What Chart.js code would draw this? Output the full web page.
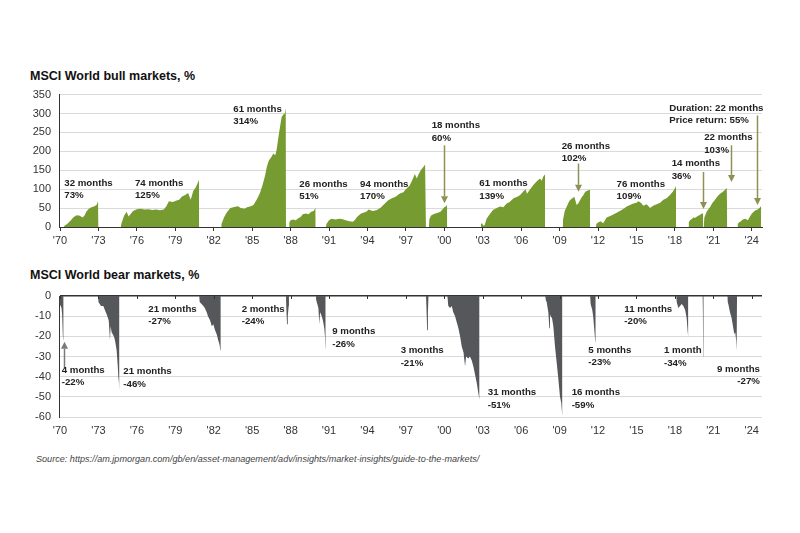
<!DOCTYPE html>
<html><head><meta charset="utf-8">
<script src="https://cdn.jsdelivr.net/npm/chart.js@4.4.1/dist/chart.umd.min.js"></script>
<style>
html,body{margin:0;padding:0;background:#fff;}
#wrap{position:relative;width:800px;height:533px;overflow:hidden;font-family:'Liberation Sans',Arial,sans-serif;background:#fff;}
.title{position:absolute;left:30px;font-weight:bold;font-size:12.5px;color:#111;line-height:14px;white-space:nowrap;}
#src{position:absolute;left:36px;top:453px;font-style:italic;font-size:9.1px;color:#444;white-space:nowrap;line-height:12px;}
canvas{position:absolute;left:0;}
</style></head>
<body><div id="wrap">
<div class="title" style="top:69px">MSCI World bull markets, %</div>
<canvas id="bull" width="800" height="170" style="top:80px"></canvas>
<div class="title" style="top:268px">MSCI World bear markets, %</div>
<canvas id="bear" width="800" height="160" style="top:280px"></canvas>
<div id="src">Source: https://am.jpmorgan.com/gb/en/asset-management/adv/insights/market-insights/guide-to-the-markets/</div>
</div>
<script>
// ---- tick labels ----
const tickYears = [1970,1973,1976,1979,1982,1985,1988,1991,1994,1997,2000,2003,2006,2009,2012,2015,2018,2021,2024];
const tickLabels = ["'70","'73","'76","'79","'82","'85","'88","'91","'94","'97","'00","'03","'06","'09","'12","'15","'18","'21","'24"];

// ---- bull markets: [year, cumulative price return %] ----
const bull1970 = [[1970.30,0],[1970.35,3],[1970.55,8],[1970.8,16],[1971.05,26],[1971.3,31],[1971.55,30],[1971.75,25],[1971.9,30],[1972.05,40],[1972.25,48],[1972.45,52],[1972.65,54],[1972.85,58],[1972.97,68],[1973.0,73],[1973.01,0]];
const bull1974 = [[1974.74,0],[1974.8,10],[1975.0,30],[1975.2,40],[1975.35,28],[1975.5,34],[1975.7,42],[1976.0,47],[1976.3,48],[1976.6,46],[1976.9,47],[1977.2,45],[1977.5,46],[1977.8,44],[1978.1,46],[1978.3,55],[1978.5,68],[1978.8,66],[1979.1,70],[1979.3,72],[1979.5,80],[1979.8,85],[1980.0,90],[1980.2,72],[1980.4,95],[1980.6,105],[1980.8,120],[1980.85,125],[1980.86,0]];
const bull1982 = [[1982.57,0],[1982.6,8],[1982.8,25],[1983.0,38],[1983.3,50],[1983.6,53],[1983.9,55],[1984.1,50],[1984.4,48],[1984.6,52],[1984.9,55],[1985.1,58],[1985.35,72],[1985.6,89],[1985.8,110],[1986.0,135],[1986.15,160],[1986.3,176],[1986.5,185],[1986.65,194],[1986.8,190],[1986.9,202],[1987.05,238],[1987.2,270],[1987.3,291],[1987.45,298],[1987.55,300],[1987.62,314],[1987.64,0]];
const bull1987 = [[1987.88,0],[1987.9,12],[1988.0,18],[1988.2,20],[1988.4,18],[1988.6,23],[1988.8,27],[1988.95,34],[1989.2,36],[1989.4,34],[1989.6,40],[1989.8,42],[1989.95,51],[1989.96,0]];
const bull1990 = [[1990.75,0],[1990.8,8],[1991.0,18],[1991.2,22],[1991.5,20],[1991.8,22],[1992.0,21],[1992.3,18],[1992.6,15],[1992.85,14],[1993.0,18],[1993.2,27],[1993.5,36],[1993.9,40],[1994.1,46],[1994.4,42],[1994.7,44],[1995.0,50],[1995.3,60],[1995.6,70],[1995.9,76],[1996.2,80],[1996.5,88],[1996.8,92],[1997.0,100],[1997.3,110],[1997.5,124],[1997.7,140],[1997.85,128],[1998.0,140],[1998.2,152],[1998.35,158],[1998.5,165],[1998.56,170],[1998.57,0]];
const bull1998 = [[1998.8,0],[1998.83,20],[1998.95,30],[1999.1,33],[1999.3,36],[1999.5,38],[1999.7,40],[1999.85,46],[2000.0,52],[2000.15,55],[2000.22,60],[2000.23,0]];
const bull2003 = [[2002.84,0],[2002.86,8],[2002.95,10],[2003.05,3],[2003.15,5],[2003.3,22],[2003.5,32],[2003.8,45],[2004.1,50],[2004.35,54],[2004.6,52],[2004.87,62],[2005.1,66],[2005.4,76],[2005.7,80],[2005.9,84],[2006.2,95],[2006.35,100],[2006.45,88],[2006.7,100],[2006.95,111],[2007.2,120],[2007.47,128],[2007.6,122],[2007.75,135],[2007.86,139],[2007.87,0]];
const bull2009 = [[2009.24,0],[2009.27,20],[2009.4,42],[2009.56,54],[2009.7,65],[2009.8,71],[2010.0,76],[2010.15,80],[2010.33,58],[2010.45,62],[2010.59,71],[2010.75,80],[2010.85,84],[2011.0,93],[2011.15,96],[2011.3,98],[2011.37,102],[2011.38,0]];
const bull2011 = [[2011.84,0],[2011.87,8],[2012.0,12],[2012.2,15],[2012.4,10],[2012.67,25],[2013.0,30],[2013.45,38],[2013.7,42],[2014.0,48],[2014.24,54],[2014.5,58],[2014.75,62],[2015.0,64],[2015.15,68],[2015.35,64],[2015.53,56],[2015.8,60],[2016.06,50],[2016.3,56],[2016.58,60],[2016.85,64],[2017.1,72],[2017.35,76],[2017.6,84],[2017.85,94],[2018.05,105],[2018.09,109],[2018.1,0]];
const bull2019 = [[2019.05,0],[2019.08,12],[2019.18,18],[2019.35,22],[2019.45,26],[2019.57,24],[2019.7,27],[2019.83,30],[2020.0,33],[2020.1,36],[2020.2,36],[2020.22,0]];
const bull2020 = [[2020.25,0],[2020.3,25],[2020.48,40],[2020.6,46],[2020.74,52],[2020.9,62],[2021.13,72],[2021.3,80],[2021.52,88],[2021.7,92],[2021.9,98],[2022.05,103],[2022.09,0]];
const bull2022 = [[2022.87,0],[2022.9,8],[2023.0,12],[2023.15,15],[2023.3,20],[2023.5,22],[2023.7,18],[2023.85,27],[2024.0,35],[2024.15,40],[2024.3,44],[2024.45,46],[2024.6,50],[2024.72,55],[2024.73,0]];

// ---- bear markets: [year, drawdown %] ----
const bear1970 = [[1969.95,0],[1969.97,-4],[1970.05,-5],[1970.12,-6],[1970.17,-10],[1970.22,-20],[1970.26,-22],[1970.28,0]];
const bear1973 = [[1972.97,0],[1973.0,-3],[1973.2,-5],[1973.38,-5],[1973.5,-7],[1973.64,-9],[1973.8,-12],[1973.9,-22],[1973.95,-15],[1974.03,-18],[1974.2,-20],[1974.29,-22],[1974.42,-27],[1974.5,-34],[1974.55,-40],[1974.6,-43],[1974.63,-46],[1974.64,0]];
const bear1980 = [[1980.86,0],[1980.9,-3],[1981.05,-4],[1981.19,-5],[1981.3,-6],[1981.45,-8],[1981.55,-10],[1981.71,-12],[1981.85,-15],[1981.97,-14],[1982.1,-17],[1982.23,-19],[1982.35,-22],[1982.45,-24],[1982.52,-27],[1982.55,0]];
const bear1987 = [[1987.64,0],[1987.66,-5],[1987.72,-14],[1987.78,-10],[1987.85,-5],[1987.87,0]];
const bear1990 = [[1989.97,0],[1990.0,-2],[1990.04,-3],[1990.17,-6],[1990.24,-14],[1990.3,-8],[1990.37,-9],[1990.48,-11],[1990.55,-13],[1990.63,-16],[1990.68,-20],[1990.72,-26],[1990.74,0]];
const bear1998 = [[1998.57,0],[1998.6,-5],[1998.66,-17],[1998.72,-8],[1998.78,0]];
const bear2000 = [[2000.23,0],[2000.28,-3],[2000.31,-5],[2000.45,-6],[2000.58,-5],[2000.7,-8],[2000.84,-10],[2000.97,-13],[2001.1,-16],[2001.23,-20],[2001.36,-25],[2001.5,-28],[2001.62,-35],[2001.7,-30],[2001.88,-31],[2002.0,-30],[2002.14,-32],[2002.27,-35],[2002.4,-39],[2002.53,-43],[2002.65,-48],[2002.73,-51],[2002.75,0]];
const bear2007 = [[2007.87,0],[2007.92,-2],[2007.99,-3],[2008.12,-8],[2008.2,-16],[2008.25,-9],[2008.3,-10],[2008.41,-11],[2008.51,-15],[2008.64,-25],[2008.77,-33],[2008.9,-41],[2009.03,-50],[2009.13,-53],[2009.2,-59],[2009.22,0]];
const bear2011 = [[2011.38,0],[2011.42,-4],[2011.55,-7],[2011.62,-10],[2011.7,-16],[2011.76,-21],[2011.8,-23],[2011.82,0]];
const bear2018 = [[2018.1,0],[2018.14,-3],[2018.27,-6],[2018.4,-5],[2018.53,-4],[2018.66,-5],[2018.8,-7],[2018.92,-11],[2019.0,-18],[2019.04,-20],[2019.05,0]];
const bear2020 = [[2020.15,0],[2020.18,-8],[2020.22,-30],[2020.25,0]];
const bear2022 = [[2022.09,0],[2022.12,-3],[2022.17,-4],[2022.3,-8],[2022.43,-11],[2022.56,-16],[2022.64,-19],[2022.71,-18],[2022.78,-22],[2022.82,-27],[2022.85,0]];

const bullSeries = [bull1970,bull1974,bull1982,bull1987,bull1990,bull1998,bull2003,bull2009,bull2011,bull2019,bull2020,bull2022];
const bearSeries = [bear1970,bear1973,bear1980,bear1987,bear1990,bear1998,bear2000,bear2007,bear2011,bear2018,bear2020,bear2022];

// ---- annotations (anchored in data units) ----
const bullNotes = [
  {x:1970.33,y:115.8,lines:['32 months','73%']},
  {x:1975.85,y:115.8,lines:['74 months','125%']},
  {x:1983.53,y:312.4,lines:['61 months','314%']},
  {x:1988.68,y:113.2,lines:['26 months','51%']},
  {x:1993.42,y:113.2,lines:['94 months','170%']},
  {x:1999.01,y:268.4,lines:['18 months','60%']},
  {x:2002.73,y:115,lines:['61 months','139%']},
  {x:2009.16,y:213.2,lines:['26 months','102%']},
  {x:2013.45,y:113.2,lines:['76 months','109%']},
  {x:2017.75,y:167.6,lines:['14 months','36%']},
  {x:2020.29,y:236.8,lines:['22 months','103%']},
  {x:2017.56,y:314,lines:['Duration: 22 months','Price return: 55%']}
];
const bullArrows = [
  {x:2000.0,from:215.8,to:63},
  {x:2010.41,from:167.6,to:92.9},
  {x:2020.22,from:145.5,to:47.4},
  {x:2022.38,from:215.8,to:119.2},
  {x:2024.38,from:294.7,to:57.9}
];
const bearNotes = [
  {x:1970.13,y:-36.7,lines:['4 months','-22%']},
  {x:1974.94,y:-37.5,lines:['21 months','-46%']},
  {x:1976.89,y:-6.6,lines:['21 months','-27%']},
  {x:1984.18,y:-6.6,lines:['2 months','-24%']},
  {x:1991.25,y:-17.7,lines:['9 months','-26%']},
  {x:1996.59,y:-27.1,lines:['3 months','-21%']},
  {x:2003.39,y:-47.9,lines:['31 months','-51%']},
  {x:2009.94,y:-47.9,lines:['16 months','-59%']},
  {x:2011.24,y:-26.8,lines:['5 months','-23%']},
  {x:2014.05,y:-6.6,lines:['11 months','-20%']},
  {x:2017.15,y:-27.1,lines:['1 month','-34%']},
  {x:2024.64,y:-36.3,lines:['9 months','-27%'],align:'right'}
];
const bearArrows = [
  {x:1970.31,from:-35.9,to:-22.7}
];

const FONT = "'Liberation Sans', Arial, sans-serif";
const GREEN = '#769b30';
const GREY = '#55575a';
const XMIN = 1969.92, XMAX = 2024.8;

const notesPlugin = {
  id:'notes',
  afterDatasetsDraw(chart, args, opts){
    const {ctx} = chart;
    const xs = chart.scales.x, ys = chart.scales.y;
    ctx.save();
    (opts.arrows||[]).forEach(a=>{
      const x = Math.round(xs.getPixelForValue(a.x))+0.5;
      const y1 = ys.getPixelForValue(a.from), y2 = ys.getPixelForValue(a.to);
      const dir = y2>y1?1:-1;
      const head = 7;
      ctx.strokeStyle = opts.arrowColor; ctx.fillStyle = opts.arrowColor; ctx.lineWidth = 1.5;
      ctx.beginPath(); ctx.moveTo(x,y1); ctx.lineTo(x,y2-dir*head); ctx.stroke();
      ctx.beginPath(); ctx.moveTo(x-3.5,y2-dir*head); ctx.lineTo(x+3.5,y2-dir*head); ctx.lineTo(x,y2); ctx.closePath(); ctx.fill();
    });
    ctx.font = "bold 9.7px " + FONT;
    ctx.fillStyle = '#222';
    ctx.textBaseline = 'middle';
    (opts.texts||[]).forEach(t=>{
      const x = xs.getPixelForValue(t.x), y = ys.getPixelForValue(t.y);
      ctx.textAlign = t.align==='right'?'right':'left';
      t.lines.forEach((l,i)=>ctx.fillText(l,x,y+i*12.4));
    });
    if (opts.zeroTicks){
      const y0 = Math.round(ys.getPixelForValue(0));
      ctx.strokeStyle = '#333'; ctx.lineWidth = 1;
      tickYears.forEach(v=>{
        const x = Math.round(xs.getPixelForValue(v))+0.5;
        ctx.beginPath(); ctx.moveTo(x,y0); ctx.lineTo(x,y0+3); ctx.stroke();
      });
    }
    ctx.restore();
  }
};

function ds(series,color){
  return series.map(s=>({data:s.map(p=>({x:p[0],y:p[1]})),fill:'origin',backgroundColor:color,borderColor:color,borderWidth:0,pointRadius:0,tension:0}));
}
const xTicks = s=>{ s.ticks = tickYears.map(v=>({value:v})); };
const tickFont = {size:11,family:FONT};

new Chart(document.getElementById('bull'),{
  type:'line',
  data:{datasets:ds(bullSeries,GREEN)},
  options:{
    responsive:false,animation:false,devicePixelRatio:1,
    layout:{padding:{left:0,right:38,top:14,bottom:0}},
    plugins:{legend:{display:false},tooltip:{enabled:false},
      notes:{texts:bullNotes,arrows:bullArrows,arrowColor:'#8f9054'}},
    scales:{
      x:{type:'linear',min:XMIN,max:XMAX,afterBuildTicks:xTicks,
        ticks:{callback:(v,i)=>tickLabels[i],autoSkip:false,maxRotation:0,font:tickFont,color:'#333',padding:3},
        grid:{display:true,drawOnChartArea:false,drawTicks:true,tickLength:4,color:'#333'},
        border:{display:true,color:'#333',width:1},
        afterFit:s=>{s.height=23;}},
      y:{min:0,max:350,ticks:{stepSize:50,font:tickFont,color:'#333',padding:8},
        grid:{color:'#dadada',drawTicks:false},
        border:{display:true,color:'#333',width:1},
        afterFit:s=>{s.width=59;}}
    }
  },
  plugins:[notesPlugin]
});

new Chart(document.getElementById('bear'),{
  type:'line',
  data:{datasets:ds(bearSeries,GREY)},
  options:{
    responsive:false,animation:false,devicePixelRatio:1,
    layout:{padding:{left:0,right:38,top:16,bottom:0}},
    plugins:{legend:{display:false},tooltip:{enabled:false},
      notes:{texts:bearNotes,arrows:bearArrows,arrowColor:'#7a7a7a',zeroTicks:true}},
    scales:{
      x:{type:'linear',min:XMIN,max:XMAX,afterBuildTicks:xTicks,
        ticks:{callback:(v,i)=>tickLabels[i],autoSkip:false,maxRotation:0,font:tickFont,color:'#333',padding:7},
        grid:{display:false,drawTicks:false},
        border:{display:false},
        afterFit:s=>{s.height=23;}},
      y:{min:-60,max:0,ticks:{stepSize:10,font:tickFont,color:'#333',padding:8},
        grid:{color:c=>c.tick&&c.tick.value===0?'#333':'#dadada',lineWidth:c=>c.tick&&c.tick.value===0?1.5:1,drawTicks:false},
        border:{display:true,color:'#333',width:1},
        afterFit:s=>{s.width=59;}}
    }
  },
  plugins:[notesPlugin]
});
</script>
</body></html>
